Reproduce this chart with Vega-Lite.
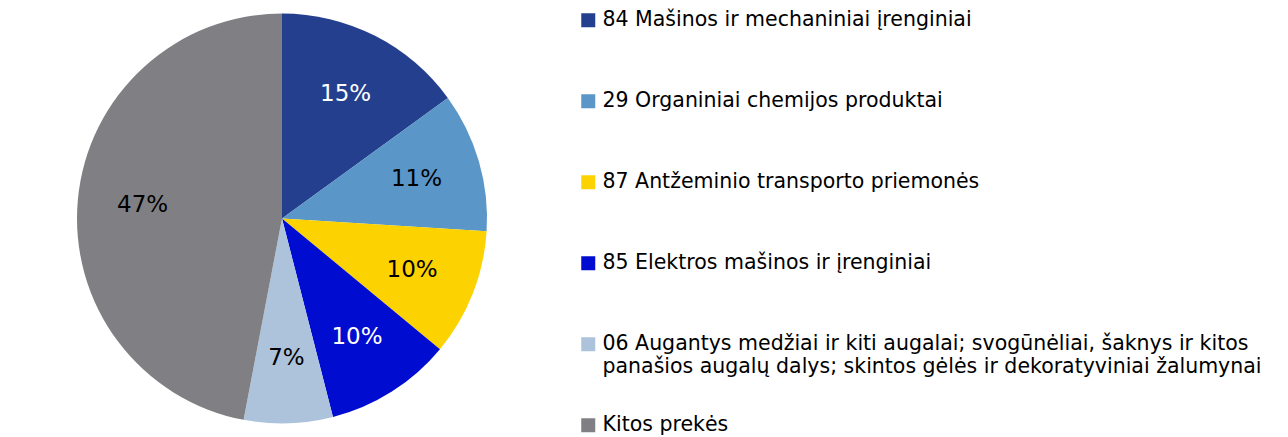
{
  "$schema": "https://vega.github.io/schema/vega-lite/v6.json",
  "width": 564,
  "height": 437,
  "padding": 0,
  "background": "white",
  "config": {"view": {"stroke": null}, "font": "DejaVu Sans"},
  "data": {"values": [
    {"cat": "84 Mašinos ir mechaniniai įrenginiai", "share": 0.15, "ord": 1},
    {"cat": "29 Organiniai chemijos produktai", "share": 0.11, "ord": 2},
    {"cat": "87 Antžeminio transporto priemonės", "share": 0.10, "ord": 3},
    {"cat": "85 Elektros mašinos ir įrenginiai", "share": 0.10, "ord": 4},
    {"cat": "06 Augantys medžiai ir kiti augalai; svogūnėliai, šaknys ir kitos panašios augalų dalys; skintos gėlės ir dekoratyviniai žalumynai", "share": 0.07, "ord": 5},
    {"cat": "Kitos prekės", "share": 0.47, "ord": 6}
  ]},
  "encoding": {
    "theta": {"field": "share", "type": "quantitative", "stack": true},
    "order": {"field": "ord", "type": "quantitative"}
  },
  "layer": [
    {
      "mark": {"type": "arc", "outerRadius": 205},
      "encoding": {
        "color": {
          "field": "cat", "type": "nominal",
          "scale": {
            "domain": [
              "84 Mašinos ir mechaniniai įrenginiai",
              "29 Organiniai chemijos produktai",
              "87 Antžeminio transporto priemonės",
              "85 Elektros mašinos ir įrenginiai",
              "06 Augantys medžiai ir kiti augalai; svogūnėliai, šaknys ir kitos panašios augalų dalys; skintos gėlės ir dekoratyviniai žalumynai",
              "Kitos prekės"
            ],
            "range": ["#243f8e", "#5a96c8", "#fcd200", "#000ccf", "#adc3dc", "#808084"]
          },
          "legend": {
            "title": null,
            "orient": "none",
            "legendX": 578,
            "legendY": 10,
            "symbolType": "square",
            "symbolSize": 196,
            "symbolStrokeWidth": 0,
            "labelFontSize": 20.5,
            "labelFont": "DejaVu Sans",
            "labelColor": "#000000",
            "labelLimit": 900,
            "labelOffset": 4,
            "gridAlign": "all",
            "rowPadding": 37,
            "labelExpr": "indexof(datum.label, '06 ') == 0 ? ['06 Augantys medžiai ir kiti augalai; svogūnėliai, šaknys ir kitos', 'panašios augalų dalys; skintos gėlės ir dekoratyviniai žalumynai'] : datum.label"
          }
        }
      }
    },
    {
      "mark": {"type": "text", "radius": 140, "fontSize": 23, "font": "DejaVu Sans"},
      "encoding": {
        "text": {"field": "share", "type": "quantitative", "format": ".0%"},
        "color": {
          "condition": {"test": "datum.ord == 1 || datum.ord == 4", "value": "#ffffff"},
          "value": "#000000"
        }
      }
    }
  ]
}
